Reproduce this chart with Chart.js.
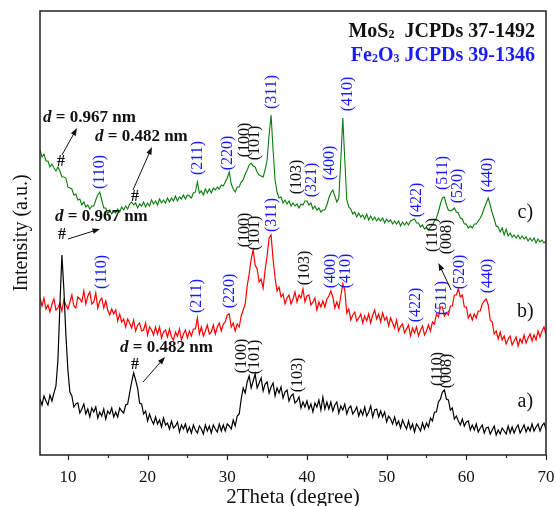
<!DOCTYPE html>
<html>
<head>
<meta charset="utf-8">
<script src="https://cdn.jsdelivr.net/npm/chart.js@4.4.1/dist/chart.umd.min.js"></script>
<style>
  html, body { margin: 0; padding: 0; background: #fff; }
  #wrap { width: 556px; height: 506px; }
</style>
</head>
<body>
<div id="wrap"><canvas id="xrdChart" width="556" height="506"></canvas></div>
<script>
// 2Theta grid of the scans: 6.5 .. 70 deg, 0.25 deg step
const thetaStart = 6.5;
const thetaStep = 0.25;
const thetaTicks = [10, 20, 30, 40, 50, 60, 70];
const thetaMinor = [15, 25, 35, 45, 55, 65];

// c) green trace (a.u., read off the picture)
const traceC = [
  305, 298,
  301, 294, 294, 288, 291, 287, 284, 288,
  284, 278, 278, 277, 268, 267, 266, 260,
  261, 255, 256, 250, 253, 248, 250, 246,
  249, 249, 255, 260, 263, 255, 247, 247,
  241, 245, 241, 244, 242, 246, 243, 248,
  245, 249, 246, 251, 253, 250, 252, 247,
  251, 249, 253, 248, 252, 249, 255, 251,
  254, 250, 256, 252, 255, 252, 257, 253,
  257, 254, 259, 254, 258, 256, 260, 256,
  260, 259, 257, 262, 263, 273, 262, 264,
  260, 266, 262, 266, 262, 267, 265, 268,
  266, 270, 269, 273, 277, 283, 271, 266,
  263, 268, 268, 273, 275, 281, 285, 290,
  292, 289, 288, 283, 280, 279, 278, 285,
  295, 320, 340, 305, 275, 263, 257, 258,
  252, 255, 251, 254, 249, 252, 249, 251,
  247, 251, 250, 254, 254, 250, 252, 246,
  249, 245, 247, 243, 245, 245, 250, 257,
  262, 265, 259, 253, 257, 295, 337, 295,
  255, 248, 246, 241, 243, 238, 242, 238,
  240, 236, 241, 235, 239, 235, 238, 234,
  237, 234, 237, 232, 236, 233, 235, 231,
  234, 231, 234, 229, 233, 230, 233, 230,
  234, 235, 236, 232, 232, 228, 230, 226,
  228, 225, 228, 230, 234, 237, 243, 251,
  257, 258, 250, 245, 244, 245, 247, 243,
  242, 237, 236, 231, 231, 227, 229, 227,
  231, 231, 234, 237, 241, 247, 252, 257,
  250, 242, 236, 229, 228, 223, 227, 220,
  226, 219, 222, 218, 220, 217, 220, 216,
  219, 216, 218, 214, 217, 214, 217, 212,
  216, 213, 215, 212, 214
];

// b) red trace
const traceB = [
  157, 149,
  157, 146, 150, 143, 151, 156, 145, 147,
  152, 144, 155, 150, 146, 153, 160, 149,
  147, 158, 156, 153, 164, 151, 159, 163,
  151, 153, 162, 147, 154, 157, 147, 154,
  145, 140, 146, 141, 145, 134, 141, 133,
  136, 128, 136, 132, 127, 135, 124, 130,
  132, 124, 125, 132, 120, 128, 125, 120,
  128, 121, 128, 117, 123, 125, 118, 126,
  118, 115, 123, 119, 126, 115, 121, 125,
  117, 124, 119, 126, 126, 137, 121, 128,
  119, 124, 130, 121, 123, 130, 121, 128,
  132, 124, 131, 133, 140, 141, 128, 132,
  124, 131, 128, 139, 145, 151, 169, 181,
  196, 205, 190, 186, 173, 176, 167, 185,
  199, 217, 220, 196, 177, 164, 168, 158,
  161, 151, 157, 160, 151, 156, 163, 153,
  160, 157, 166, 153, 159, 160, 150, 153,
  157, 145, 153, 148, 154, 148, 156, 159,
  164, 158, 147, 153, 147, 159, 171, 165,
  142, 146, 135, 140, 143, 134, 137, 141,
  132, 139, 134, 141, 132, 140, 145, 136,
  141, 133, 142, 135, 138, 129, 137, 132,
  127, 135, 124, 129, 131, 122, 126, 130,
  119, 127, 122, 128, 119, 125, 129, 120,
  124, 130, 124, 133, 131, 141, 138, 148,
  148, 139, 142, 140, 149, 149, 160, 160,
  166, 158, 160, 148, 148, 137, 141, 135,
  141, 137, 144, 144, 151, 154, 156, 150,
  135, 133, 121, 124, 116, 123, 115, 119,
  111, 116, 119, 110, 114, 118, 109, 116,
  112, 120, 112, 117, 121, 114, 120, 115,
  124, 118, 124, 128, 121
];

// a) black trace
const traceA = [
  56, 50,
  59, 54, 50, 60, 54, 62, 69, 95,
  150, 200, 165, 120, 85, 63, 59, 48,
  51, 52, 42, 46, 51, 41, 46, 38,
  47, 43, 48, 37, 43, 39, 46, 36,
  44, 41, 47, 38, 43, 38, 47, 44,
  42, 50, 51, 62, 73, 82, 75, 67,
  52, 51, 41, 44, 34, 41, 35, 31,
  38, 31, 35, 28, 37, 30, 32, 26,
  34, 27, 29, 33, 23, 30, 26, 31,
  23, 28, 22, 30, 25, 22, 29, 26,
  21, 30, 24, 29, 22, 30, 26, 23,
  31, 24, 30, 24, 31, 29, 26, 35,
  29, 39, 41, 56, 67, 62, 73, 79,
  67, 74, 81, 67, 72, 77, 64, 71,
  73, 62, 68, 72, 59, 67, 62, 68,
  57, 63, 65, 54, 59, 61, 52, 54,
  58, 47, 53, 48, 54, 46, 51, 43,
  52, 48, 55, 45, 58, 46, 53, 46,
  53, 44, 50, 53, 42, 49, 45, 51,
  41, 47, 49, 41, 44, 48, 39, 45,
  40, 48, 39, 43, 49, 38, 45, 46,
  38, 44, 38, 43, 33, 39, 36, 31,
  38, 30, 34, 27, 35, 30, 26, 34,
  26, 31, 23, 31, 28, 24, 32, 26,
  32, 28, 37, 34, 43, 43, 53, 56,
  63, 65, 56, 55, 45, 47, 36, 39,
  34, 30, 36, 29, 33, 34, 25, 30,
  25, 31, 23, 27, 30, 22, 27, 28,
  21, 25, 29, 20, 25, 21, 27, 24,
  21, 29, 22, 28, 22, 27, 30, 22,
  26, 30, 23, 28, 24, 31, 24, 28,
  31, 24, 29, 32, 26
];

const BLUE = "#1a1aff";
const BLACK = "#111";
const SERIF = "'Liberation Serif', 'Times New Roman', serif";

// peak indices: [text, theta, intensity, colour]
const peakLabels = [
  // c)
  ["(110)", 14.0, 283, BLUE],
  ["(211)", 26.3, 297, BLUE],
  ["(220)", 30.1, 302, BLUE],
  ["(100)", 32.2, 315, BLACK],
  ["(101)", 33.5, 312, BLACK],
  ["(311)", 35.6, 363, BLUE],
  ["(103)", 38.75, 278, BLACK],
  ["(321)", 40.6, 275, BLUE],
  ["(400)", 42.9, 292, BLUE],
  ["(410)", 45.15, 361, BLUE],
  ["(422)", 53.8, 255, BLUE],
  ["(511)", 57.1, 282, BLUE],
  ["(520)", 58.95, 269, BLUE],
  ["(440)", 62.7, 280, BLUE],
  // b)
  ["(110)", 14.3, 183, BLUE],
  ["(211)", 26.2, 159, BLUE],
  ["(220)", 30.3, 164, BLUE],
  ["(100)", 32.2, 225, BLACK],
  ["(101)", 33.5, 222, BLACK],
  ["(311)", 35.6, 240, BLUE],
  ["(103)", 39.75, 187, BLACK],
  ["(400)", 43.0, 184, BLUE],
  ["(410)", 44.9, 184, BLUE],
  ["(422)", 53.6, 150, BLUE],
  ["(511)", 56.95, 157, BLUE],
  ["(520)", 59.2, 183, BLUE],
  ["(440)", 62.7, 179, BLUE],
  ["(110)", 55.8, 220, BLACK],
  ["(008)", 57.6, 218, BLACK],
  // a)
  ["(100)", 31.85, 99, BLACK],
  ["(101)", 33.5, 98, BLACK],
  ["(103)", 38.9, 80, BLACK],
  ["(110)", 56.45, 86, BLACK],
  ["(008)", 57.6, 84, BLACK],
];

const curveTags = [["c)", 67.4, 242], ["b)", 67.4, 143], ["a)", 67.4, 53]];

// d-spacing notes: [value text, theta of left edge, intensity]
const dNotes = [["0.967 nm", 6.88, 337], ["0.482 nm", 13.4, 318], ["0.967 nm", 8.38, 238], ["0.482 nm", 16.54, 107]];
const hashMarks = [[9.14, 293], [18.42, 258], [9.26, 220], [18.42, 90]];
const arrows = [
  [9.26, 300, 11.14, 327],
  [18.17, 265, 20.55, 308],
  [10.0, 216, 14.03, 226],
  [19.43, 73, 22.19, 98],
  [58.1, 165, 56.5, 192],
];

function withTheta(values) {
  return values.map((v, i) => ({ x: thetaStart + i * thetaStep, y: v }));
}

function drawArrow(ctx, x1, y1, x2, y2) {
  const ang = Math.atan2(y2 - y1, x2 - x1);
  const head = 8;
  ctx.beginPath();
  ctx.moveTo(x1, y1);
  ctx.lineTo(x2 - Math.cos(ang) * head * 0.8, y2 - Math.sin(ang) * head * 0.8);
  ctx.stroke();
  ctx.beginPath();
  ctx.moveTo(x2, y2);
  ctx.lineTo(x2 - head * Math.cos(ang - 0.35), y2 - head * Math.sin(ang - 0.35));
  ctx.lineTo(x2 - head * Math.cos(ang + 0.35), y2 - head * Math.sin(ang + 0.35));
  ctx.closePath();
  ctx.fill();
}

// draws text pieces left to right, returns end x
function drawPieces(ctx, pieces, x, y) {
  pieces.forEach((p) => {
    ctx.font = p.font;
    ctx.fillText(p.t, x, y + (p.dy || 0));
    x += ctx.measureText(p.t).width;
  });
  return x;
}

function piecesWidth(ctx, pieces) {
  let w = 0;
  pieces.forEach((p) => {
    ctx.font = p.font;
    w += ctx.measureText(p.t).width;
  });
  return w;
}

const decorations = {
  id: "decorations",
  afterDatasetsDraw(chart) {
    const { ctx, chartArea: area } = chart;
    const xs = chart.scales.x;
    const ys = chart.scales.y;
    ctx.save();

    // frame
    ctx.strokeStyle = "#222";
    ctx.lineWidth = 1.5;
    ctx.strokeRect(area.left, area.top, area.right - area.left, area.bottom - area.top);

    // outward ticks on the bottom axis
    ctx.lineWidth = 1.2;
    ctx.beginPath();
    thetaTicks.forEach((t) => {
      const px = Math.round(xs.getPixelForValue(t)) + 0.5;
      ctx.moveTo(px, area.bottom);
      ctx.lineTo(px, area.bottom + 5);
    });
    thetaMinor.forEach((t) => {
      const px = Math.round(xs.getPixelForValue(t)) + 0.5;
      ctx.moveTo(px, area.bottom);
      ctx.lineTo(px, area.bottom + 3);
    });
    ctx.stroke();

    // peak indices, rotated
    ctx.textAlign = "center";
    ctx.textBaseline = "middle";
    ctx.font = "16px " + SERIF;
    peakLabels.forEach(([text, t, v, color]) => {
      ctx.save();
      ctx.translate(xs.getPixelForValue(t), ys.getPixelForValue(v));
      ctx.rotate(-Math.PI / 2);
      ctx.fillStyle = color;
      ctx.fillText(text, 0, 0);
      ctx.restore();
    });

    // curve tags
    ctx.fillStyle = BLACK;
    ctx.font = "20px " + SERIF;
    curveTags.forEach(([text, t, v]) => {
      ctx.fillText(text, xs.getPixelForValue(t), ys.getPixelForValue(v));
    });

    // # marks
    ctx.font = "bold 16px " + SERIF;
    hashMarks.forEach(([t, v]) => {
      ctx.fillText("#", xs.getPixelForValue(t), ys.getPixelForValue(v));
    });

    // d-spacing notes
    ctx.textAlign = "left";
    dNotes.forEach(([val, t, v]) => {
      drawPieces(ctx, [
        { t: "d", font: "italic bold 17px " + SERIF },
        { t: " = " + val, font: "bold 17px " + SERIF },
      ], xs.getPixelForValue(t), ys.getPixelForValue(v));
    });

    // arrows
    ctx.strokeStyle = BLACK;
    ctx.lineWidth = 1;
    arrows.forEach(([t1, v1, t2, v2]) => {
      drawArrow(ctx,
        xs.getPixelForValue(t1), ys.getPixelForValue(v1),
        xs.getPixelForValue(t2), ys.getPixelForValue(v2));
    });

    // reference cards, top right
    ctx.textBaseline = "alphabetic";
    const bold = "bold 20px " + SERIF;
    const sub = "bold 12px " + SERIF;
    const cards = [
      [[{ t: "MoS", font: bold }, { t: "2", font: sub, dy: 1 }, { t: "  JCPDs 37-1492", font: bold }], BLACK, 37],
      [[{ t: "Fe", font: bold }, { t: "2", font: sub, dy: 1 }, { t: "O", font: bold }, { t: "3", font: sub, dy: 1 }, { t: " JCPDs 39-1346", font: bold }], BLUE, 61],
    ];
    cards.forEach(([pieces, color, y]) => {
      ctx.fillStyle = color;
      const w = piecesWidth(ctx, pieces);
      drawPieces(ctx, pieces, area.right - 11 - w, area.top + y - 11);
    });

    ctx.restore();
  },
};

const chart = new Chart(document.getElementById("xrdChart"), {
  type: "line",
  data: {
    datasets: [
      { label: "a)", data: withTheta(traceA), borderColor: "#000000", borderWidth: 1.2 },
      { label: "b)", data: withTheta(traceB), borderColor: "#ff0000", borderWidth: 1.2 },
      { label: "c)", data: withTheta(traceC), borderColor: "#0a7d0a", borderWidth: 1.1 },
    ],
  },
  options: {
    responsive: false,
    animation: false,
    devicePixelRatio: 1,
    parsing: false,
    layout: { padding: { top: 11, right: 10, left: 0, bottom: 0 } },
    elements: { point: { radius: 0 }, line: { tension: 0 } },
    plugins: { legend: { display: false }, tooltip: { enabled: false } },
    scales: {
      x: {
        type: "linear",
        min: 6.5,
        max: 70,
        afterFit: (s) => { s.height = 51; s.paddingLeft = 0; s.paddingRight = 0; },
        afterBuildTicks: (s) => { s.ticks = thetaTicks.map((v) => ({ value: v })); },
        grid: { display: false, drawTicks: false },
        border: { display: false },
        ticks: { color: BLACK, padding: 12, maxRotation: 0, autoSkip: false, font: { family: SERIF, size: 17 } },
        title: {
          display: true,
          text: "2Theta (degree)",
          color: BLACK,
          font: { family: SERIF, size: 21, lineHeight: 0.85 },
          padding: { top: 0, bottom: 0 },
        },
      },
      y: {
        type: "linear",
        min: 0,
        max: 444,
        afterFit: (s) => { s.width = 40; },
        grid: { display: false, drawTicks: false },
        border: { display: false },
        ticks: { display: false },
        title: {
          display: true,
          text: "Intensity (a.u.)",
          color: BLACK,
          font: { family: SERIF, size: 20, lineHeight: 1 },
          padding: { top: 12, bottom: 0 },
        },
      },
    },
  },
  plugins: [decorations],
});
</script>
</body>
</html>
